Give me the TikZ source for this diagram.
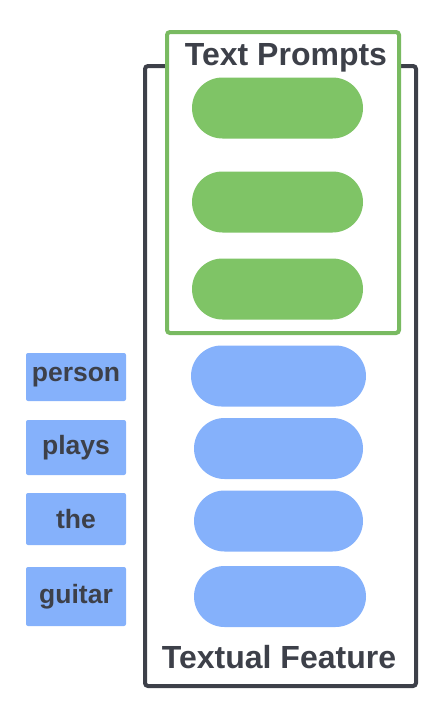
\documentclass[tikz,border=0pt]{standalone}
\usepackage{fontspec}
\setmainfont{Liberation Sans}
\usepackage{xcolor}
\usepackage{tikz}
\usetikzlibrary{positioning,shapes.misc}
\definecolor{dark}{HTML}{3D4049}
\definecolor{promptgreen}{HTML}{7FC466}
\definecolor{featblue}{HTML}{85B1FB}
\tikzstyle{frame} = [rectangle, rounded corners=3pt, line width=4pt, inner sep=0pt]
\tikzstyle{prompt} = [rounded rectangle, fill=promptgreen, minimum width=171pt, minimum height=61pt, inner sep=0pt]
\tikzstyle{feat} = [rounded rectangle, fill=featblue, minimum width=171pt, minimum height=61pt, inner sep=0pt]
\tikzstyle{word} = [rectangle, rounded corners=2pt, fill=featblue, minimum width=100pt, text=dark, font=\fontsize{26.5pt}{30pt}\selectfont\bfseries]
\tikzstyle{title} = [anchor=base, text=dark, font=\fontsize{32pt}{36pt}\selectfont\bfseries]

\begin{document}
\begin{tikzpicture}
		[x=1pt, y=-1pt]
		\useasboundingbox (0,0) rectangle (446,715);
		% frames
		\node[frame, draw=dark, minimum width=271pt, minimum height=620pt] (feature) at (280.5,376) {};
		\node[frame, draw=promptgreen!95!black, fill=white, minimum width=232pt, minimum height=301pt] (prompts) at (283,182.5) {};
		\node[title] (promptsTitle) at (286,65) {Text Prompts};
		\node[title] (featureTitle) at (279,668) {Textual Feature};
		
		% text prompts
		\node[prompt] (p1) at (277.5,108) {};
		\node[prompt] (p2) at (277.5,202) {};
		\node[prompt] (p3) at (277.5,289) {};
		
		% word features
		\node[feat, minimum width=175pt] (f1) at (278.5,376) {};
		\node[feat, minimum width=169pt] (f2) at (278.5,448.5) {};
		\node[feat, minimum width=169pt] (f3) at (278.5,521) {};
		\node[feat, minimum width=172pt] (f4) at (280,596.5) {};
		
		% words
		\node[word, minimum height=48pt] (person) at (76,377) {person};
		\node[word, minimum height=55pt] (plays) at (76,447.5) {plays};
		\node[word, minimum height=52pt] (the) at (76,519) {the};
		\node[word, minimum height=59pt] (guitar) at (76,596.5) {guitar};
		\end{tikzpicture}
\end{document}
